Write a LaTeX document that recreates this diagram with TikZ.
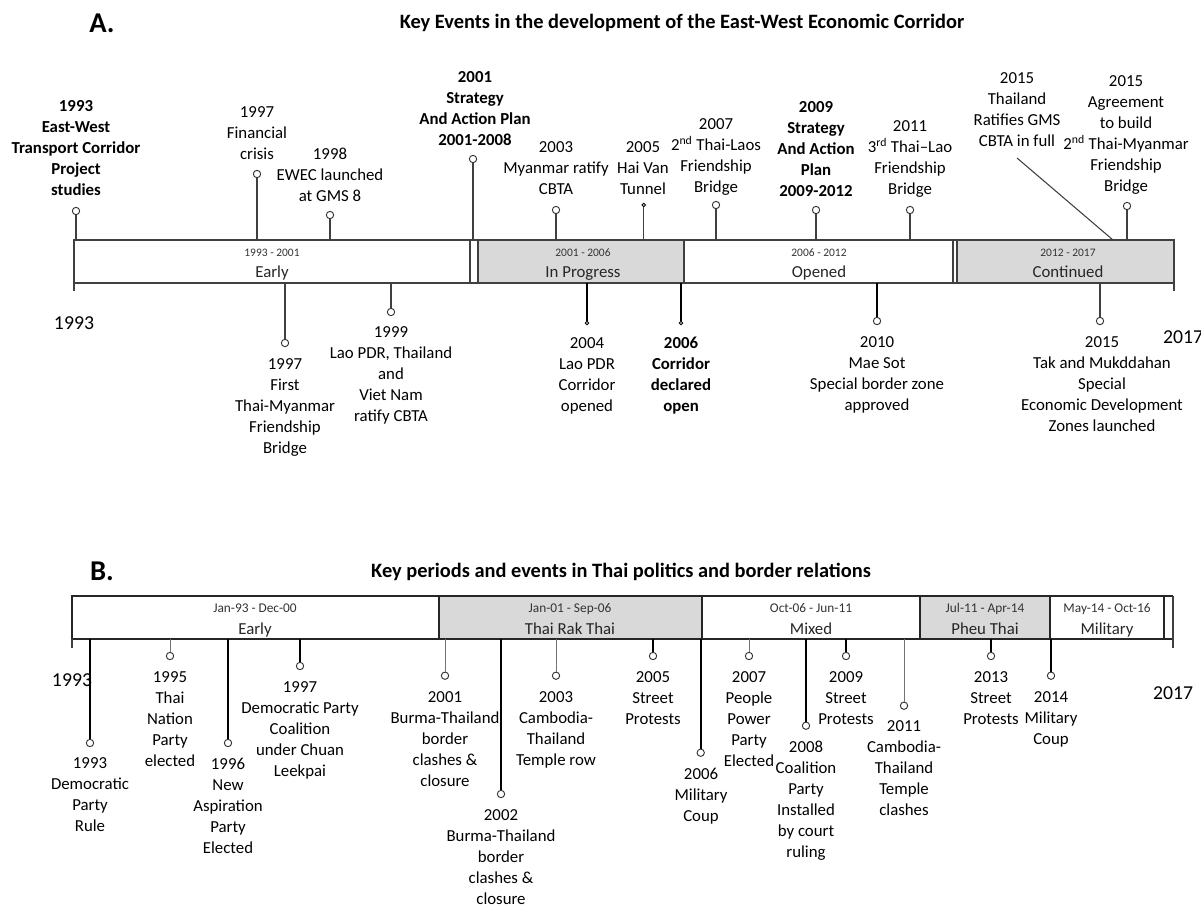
\documentclass[tikz,border=0pt]{standalone}
\usepackage{fontspec}
\setmainfont{Carlito}
\begin{document}
\begin{tikzpicture}[x=0.75pt,y=-0.75pt,
  frameA/.style={draw=black!75, line width=0.9pt},
  frameB/.style={draw=black!85, line width=1.4pt},
  shade/.style={fill=black!15},
  lbl/.style={font=\fontsize{12.6}{15.75}\selectfont, align=center, inner sep=0pt, anchor=north},
  lblb/.style={font=\fontsize{12.6}{15.75}\selectfont\bfseries, align=center, inner sep=0pt, anchor=north},
  yr/.style={font=\fontsize{14.8}{17}\selectfont, inner sep=0pt},
  pdA/.style={font=\fontsize{8.6}{10}\selectfont, inner sep=0pt, anchor=base, text=black!80},
  pdB/.style={font=\fontsize{10}{12}\selectfont, inner sep=0pt, anchor=base, text=black!80},
  pnm/.style={font=\fontsize{12.6}{15}\selectfont, inner sep=0pt, anchor=base, text=black!85},
  ttl/.style={font=\fontsize{15.3}{18}\selectfont\bfseries, inner sep=0pt, anchor=base},
  big/.style={font=\fontsize{21.5}{24}\selectfont\bfseries, inner sep=0pt, anchor=base},
  ring/.style={circle, draw=black!80, fill=white, line width=0.7pt, minimum size=5.5pt, inner sep=0pt},
  pip/.style={circle, draw=black, fill=white, line width=0.6pt, minimum size=2.6pt, inner sep=0pt},
  stem/.style={draw=black!75, line width=0.8pt},
  stemk/.style={draw=black, line width=1.3pt},
  stemt/.style={draw=black!55, line width=0.7pt}
]
\useasboundingbox (0,0) rectangle (1201,907);
\fill[white] (0,0) rectangle (1201,907);

% ---------------- Panel A ----------------
\node[big] (labA) at (102,32) {A.};
\node[ttl] (titA) at (682,28.5) {Key Events in the development of the East-West Economic Corridor};

\coordinate (Atop) at (0,240);
\coordinate (Abot) at (0,283);

\draw[frameA] (74,240) rectangle (470,283);
\draw[frameA] (470,240) rectangle (478,283);
\draw[frameA, shade] (478,240) rectangle (684,283);
\draw[frameA] (684,240) rectangle (953,283);
\draw[frameA] (953,240) rectangle (957,283);
\draw[frameA, shade] (957,240) rectangle (1174,283);
\draw[frameA] (74,283) -- (74,291);
\draw[frameA] (1174,283) -- (1174,291);

\node[pdA] (pA1) at (272,256) {1993 - 2001};
\node[pnm] (nA1) at (272,277) {Early};
\node[pdA] (pA2) at (583,256) {2001 - 2006};
\node[pnm] (nA2) at (583,277) {In Progress};
\node[pdA] (pA3) at (819,256) {2006 - 2012};
\node[pnm] (nA3) at (819,277) {Opened};
\node[pdA] (pA4) at (1068,256) {2012 - 2017};
\node[pnm] (nA4) at (1068,277) {Continued};

\node[yr] (yA0) at (74,323) {1993};
\node[yr] (yA1) at (1183,337) {2017};

% events above
\node[lblb] (tA1) at (76,100.5) {1993\\East-West\\Transport Corridor\\Project\\studies};
\node[lbl] (tA2) at (257,106.5) {1997\\Financial\\crisis};
\node[lbl] (tA3) at (330,147.5) {1998\\EWEC launched\\at GMS 8};
\node[lblb] (tA4) at (475,71.5) {2001\\Strategy\\And Action Plan\\2001-2008};
\node[lbl] (tA5) at (556,141.5) {2003\\Myanmar ratify\\CBTA};
\node[lbl] (tA6) at (643,141.5) {2005\\Hai Van\\Tunnel};
\node[lbl] (tA7) at (716,118.5) {2007\\2\textsuperscript{nd} Thai-Laos\\Friendship\\Bridge};
\node[lblb] (tA8) at (816,101) {2009\\Strategy\\And Action\\Plan\\2009-2012};
\node[lbl] (tA9) at (910,120.5) {2011\\3\textsuperscript{rd} Thai--Lao\\Friendship\\Bridge};
\node[lbl] (tA10) at (1017,72.5) {2015\\Thailand\\Ratifies GMS\\CBTA in full};
\node[lbl] (tA11) at (1126,75) {2015\\Agreement\\to build\\2\textsuperscript{nd} Thai-Myanmar\\Friendship\\Bridge};

\node[ring] (rA1) at (76,211) {};
\node[ring] (rA2) at (257,174) {};
\node[ring] (rA3) at (330,215) {};
\node[ring] (rA4) at (473,159) {};
\node[ring] (rA5) at (556,210) {};
\node[pip]  (rA6) at (643.7,205) {};
\node[ring] (rA7) at (716,205) {};
\node[ring] (rA8) at (816,210) {};
\node[ring] (rA9) at (910,210) {};
\node[ring] (rA11) at (1127,206) {};

\foreach \n in {rA1,rA2,rA3,rA4,rA5,rA6,rA7,rA8,rA9,rA11}
  \draw[stem] (\n) -- (\n |- Atop);

\coordinate (dA1) at (1017,158);
\coordinate (dA2) at (1113,240);
\draw[stem] (dA1) -- (dA2);

% events below
\node[lbl] (tA12) at (285,358.5) {1997\\First\\Thai-Myanmar\\Friendship\\Bridge};
\node[lbl] (tA13) at (391,326.5) {1999\\Lao PDR, Thailand\\and\\Viet Nam\\ratify CBTA};
\node[lbl] (tA14) at (587,337) {2004\\Lao PDR\\Corridor\\opened};
\node[lblb] (tA15) at (681,337) {2006\\Corridor\\declared\\open};
\node[lbl] (tA16) at (877,336.5) {2010\\Mae Sot\\Special border zone\\approved};
\node[lbl] (tA17) at (1102,336.5) {2015\\Tak and Mukddahan\\Special\\Economic Development\\Zones launched};

\node[ring] (rA12) at (285,343) {};
\node[ring] (rA13) at (391,312) {};
\node[pip]  (rA14) at (587,323) {};
\node[pip]  (rA15) at (681,323) {};
\node[ring] (rA16) at (877,321) {};
\node[ring] (rA17) at (1100,321) {};

\draw[stem] (rA12) -- (rA12 |- Abot);
\draw[stem] (rA13) -- (rA13 |- Abot);
\draw[stemk] (rA14) -- (rA14 |- Abot);
\draw[stemk] (rA15) -- (rA15 |- Abot);
\draw[stemk] (rA16) -- (rA16 |- Abot);
\draw[stem] (rA17) -- (rA17 |- Abot);

% ---------------- Panel B ----------------
\node[big] (labB) at (102,580) {B.};
\node[ttl] (titB) at (621,577) {Key periods and events in Thai politics and border relations};

\coordinate (Bbot) at (0,639);

\draw[frameB] (72,596) rectangle (439,639);
\draw[frameB, shade] (439,596) rectangle (702,639);
\draw[frameB] (702,596) rectangle (920,639);
\draw[frameB, shade] (920,596) rectangle (1050,639);
\draw[frameB] (1050,596) rectangle (1164,639);
\draw[frameB] (1164,596) -- (1173,596);
\draw[frameB] (1164,639) -- (1173,639);
\draw[frameA] (72,639) -- (72,648);
\draw[frameA] (1173,596) -- (1173,648);

\node[pdB] (pB1) at (255,612.5) {Jan-93 - Dec-00};
\node[pnm] (nB1) at (255,634) {Early};
\node[pdB] (pB2) at (570,612.5) {Jan-01 - Sep-06};
\node[pnm] (nB2) at (570,634) {Thai Rak Thai};
\node[pdB] (pB3) at (811,612.5) {Oct-06 - Jun-11};
\node[pnm] (nB3) at (811,634) {Mixed};
\node[pdB] (pB4) at (985,612.5) {Jul-11 - Apr-14};
\node[pnm] (nB4) at (985,634) {Pheu Thai};
\node[pdB] (pB5) at (1107,612.5) {May-14 - Oct-16};
\node[pnm] (nB5) at (1107,634) {Military};

\node[yr] (yB0) at (72,680) {1993};
\node[yr] (yB1) at (1173,693) {2017};

\node[lbl] (tB1) at (90,757.5) {1993\\Democratic\\Party\\Rule};
\node[lbl] (tB2) at (170,671.5) {1995\\Thai\\Nation\\Party\\elected};
\node[lbl] (tB3) at (228,757.5) {1996\\New\\Aspiration\\Party\\Elected};
\node[lbl] (tB4) at (300,681.5) {1997\\Democratic Party\\Coalition\\under Chuan\\Leekpai};
\node[lbl] (tB5) at (445,691) {2001\\Burma-Thailand\\border\\clashes \&\\closure};
\node[lbl] (tB6) at (501,809.5) {2002\\Burma-Thailand\\border\\clashes \&\\closure};
\node[lbl] (tB7) at (556,691.5) {2003\\Cambodia-\\Thailand\\Temple row};
\node[lbl] (tB8) at (653,671.5) {2005\\Street\\Protests};
\node[lbl] (tB9) at (701,767.5) {2006\\Military\\Coup};
\node[lbl] (tB10) at (749,671.5) {2007\\People\\Power\\Party\\Elected};
\node[lbl] (tB11) at (806,740.5) {2008\\Coalition\\Party\\Installed\\by court\\ruling};
\node[lbl] (tB12) at (846,671.5) {2009\\Street\\Protests};
\node[lbl] (tB13) at (904,720.5) {2011\\Cambodia-\\Thailand\\Temple\\clashes};
\node[lbl] (tB14) at (991,671.5) {2013\\Street\\Protests};
\node[lbl] (tB15) at (1051,691.5) {2014\\Military\\Coup};

\node[ring] (rB1) at (90,743) {};
\node[ring] (rB2) at (170,656) {};
\node[ring] (rB3) at (228,743) {};
\node[ring] (rB4) at (300,666) {};
\node[ring] (rB5) at (445,675.7) {};
\node[ring] (rB6) at (501,794) {};
\node[ring] (rB7) at (556,675.7) {};
\node[ring] (rB8) at (653,656) {};
\node[ring] (rB9) at (700.7,752.7) {};
\node[ring] (rB10) at (749,656) {};
\node[ring] (rB11) at (806,725.7) {};
\node[ring] (rB12) at (846,656) {};
\node[ring] (rB13) at (904,705.7) {};
\node[ring] (rB14) at (991,656) {};
\node[ring] (rB15) at (1051,675.7) {};

\foreach \n in {rB1,rB3,rB4,rB6,rB8,rB9,rB11,rB12,rB14,rB15}
  \draw[stemk] (\n) -- (\n |- Bbot);
\foreach \n in {rB2,rB5,rB7,rB10,rB13}
  \draw[stemt] (\n) -- (\n |- Bbot);
\end{tikzpicture}
\end{document}
